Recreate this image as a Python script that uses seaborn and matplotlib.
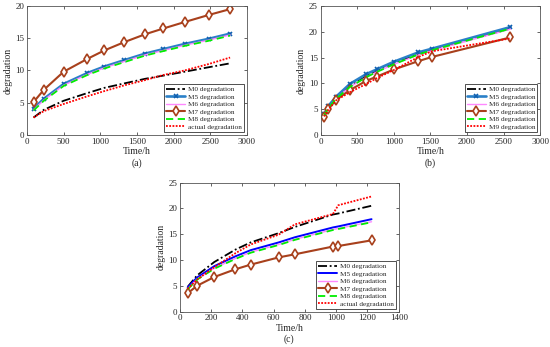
import numpy as np
import pandas as pd
import matplotlib
matplotlib.use("Agg")
import matplotlib.pyplot as plt
import seaborn as sns

# -------------------------------
# Data
# -------------------------------
# panel (a)
time_a = [90, 230, 500, 825, 1055, 1330, 1610, 1860, 2150, 2480, 2770]
m0_a = [2.7, 3.9, 5.3, 6.5, 7.3, 8.0, 8.7, 9.2, 9.8, 10.5, 11.1]
m5_a = [4.1, 5.6, 7.9, 9.6, 10.6, 11.6, 12.6, 13.3, 14.1, 14.9, 15.7]
m6_a = [3.9, 5.4, 7.7, 9.4, 10.4, 11.4, 12.4, 13.1, 13.9, 14.7, 15.5]
m7_a = [5.1, 7.0, 9.8, 11.8, 13.1, 14.4, 15.6, 16.5, 17.5, 18.6, 19.5]
m8_a = [3.8, 5.3, 7.6, 9.3, 10.3, 11.3, 12.3, 13.0, 13.8, 14.6, 15.4]
actual_a = [2.7, 3.7, 4.8, 6.0, 6.8, 7.7, 8.5, 9.3, 10.0, 11.0, 12.0]

# panel (b)
time_b = [46, 105, 210, 401, 625, 766, 1003, 1336, 1518, 2595]
m0_b = [3.8, 5.3, 7.1, 9.5, 11.4, 12.4, 13.9, 15.7, 16.5, 20.6]
m5_b = [4.0, 5.6, 7.4, 9.9, 11.8, 12.7, 14.2, 16.0, 16.7, 20.9]
m6_b = [3.7, 5.2, 7.0, 9.3, 11.2, 12.2, 13.7, 15.5, 16.3, 20.5]
m7_b = [3.55, 5.0, 6.8, 8.7, 10.5, 11.3, 12.7, 14.3, 15.1, 18.9]
m8_b = [3.7, 5.2, 7.0, 9.3, 11.2, 12.2, 13.7, 15.6, 16.4, 20.6]
m9_b = [3.6, 4.9, 6.7, 8.3, 9.9, 11.0, 12.6, 15.1, 16.2, 18.7]

# panel (c)
time_c = [50, 110, 220, 355, 453, 632, 736, 979, 1013, 1226]
m0_c = [4.8, 7.0, 9.6, 12.0, 13.4, 15.2, 16.4, 18.8, 19.0, 20.5]
m5_c = [4.7, 6.6, 8.8, 10.7, 11.9, 13.4, 14.4, 16.3, 16.5, 17.9]
m6_c = [4.4, 6.3, 8.4, 10.3, 11.5, 13.0, 14.0, 15.9, 16.1, 17.4]
m7_c = [3.55, 5.0, 6.7, 8.2, 9.1, 10.5, 11.1, 12.6, 12.7, 13.8]
m8_c = [4.3, 6.2, 8.3, 10.2, 11.4, 12.9, 13.9, 15.8, 16.0, 17.3]
actual_c = [4.4, 6.2, 8.6, 11.3, 13.0, 14.9, 16.9, 18.9, 20.6, 22.3]

# -------------------------------
# Style
# -------------------------------
sns.set_style("ticks")
plt.rcParams['font.family'] = ['Liberation Serif', 'DejaVu Serif']
plt.rcParams['xtick.direction'] = 'in'
plt.rcParams['ytick.direction'] = 'in'
plt.rcParams['xtick.labelsize'] = 6.5
plt.rcParams['ytick.labelsize'] = 6.5

brown = '#A8401C'
mblue = '#2a80c8'

fig = plt.figure(figsize=(5.5, 3.47), dpi=100)
ax_a = fig.add_axes([0.049, 0.611, 0.400, 0.372])
ax_b = fig.add_axes([0.583, 0.611, 0.399, 0.372])
ax_c = fig.add_axes([0.327, 0.102, 0.398, 0.372])


def draw(ax, t, series, m5_style, last_label):
    m0, m5, m6, m7, m8, last = series
    sns.lineplot(x=t, y=m0, ax=ax, color='black', linestyle=(0, (5, 1.5, 1, 1.5)),
                 lw=1.3, label='M0 degradation')
    if m5_style == 'marker':
        sns.lineplot(x=t, y=m5, ax=ax, color=mblue, lw=1.9, marker='x', markersize=3.5,
                     markeredgewidth=1.2, markeredgecolor='#1060b0',
                     label='M5 degradation')
    else:
        sns.lineplot(x=t, y=m5, ax=ax, color='#0000FF', lw=1.4, label='M5 degradation')
    sns.lineplot(x=t, y=m6, ax=ax, color='#FF88FF', lw=1.0, label='M6 degradation')
    sns.lineplot(x=t, y=m7, ax=ax, color=brown, lw=1.5, marker='d', markersize=5,
                 markerfacecolor='white', markeredgecolor=brown, markeredgewidth=1.2,
                 label='M7 degradation')
    sns.lineplot(x=t, y=m8, ax=ax, color='#00EE00', lw=1.3, linestyle=(0, (4, 2.5)),
                 label='M8 degradation')
    sns.lineplot(x=t, y=last, ax=ax, color='red', lw=1.3, linestyle=(0, (1, 0.8)),
                 label=last_label)
    ax.legend(loc='lower right', fontsize=5.2, handlelength=2.6, labelspacing=0.2,
              borderpad=0.3, handletextpad=0.4, fancybox=False, edgecolor='#333333',
              framealpha=1, borderaxespad=0.4)
    ax.legend_.get_frame().set_linewidth(0.6)
    for s in ax.spines.values():
        s.set_linewidth(0.6)
        s.set_color('#555555')
    ax.tick_params(top=True, right=True, length=2, width=0.5, pad=2)
    ax.set_ylabel('degradation', fontsize=7, labelpad=2)
    ax.set_xlabel('Time/h', fontsize=7, labelpad=1)


draw(ax_a, time_a, [m0_a, m5_a, m6_a, m7_a, m8_a, actual_a], 'marker', 'actual degradation')
ax_a.set_xlim(0, 3000)
ax_a.set_ylim(0, 20)
ax_a.set_xticks(np.arange(0, 3001, 500))
ax_a.set_yticks(np.arange(0, 21, 5))

draw(ax_b, time_b, [m0_b, m5_b, m6_b, m7_b, m8_b, m9_b], 'marker', 'M9 degradation')
ax_b.set_xlim(0, 3000)
ax_b.set_ylim(0, 25)
ax_b.set_xticks(np.arange(0, 3001, 500))
ax_b.set_yticks(np.arange(0, 26, 5))

draw(ax_c, time_c, [m0_c, m5_c, m6_c, m7_c, m8_c, actual_c], 'plain', 'actual degradation')
ax_c.set_xlim(0, 1400)
ax_c.set_ylim(0, 25)
ax_c.set_xticks(np.arange(0, 1401, 200))
ax_c.set_yticks(np.arange(0, 26, 5))

for ax, tag in [(ax_a, '(a)'), (ax_b, '(b)'), (ax_c, '(c)')]:
    ax.text(0.5, -0.18, tag, transform=ax.transAxes, ha='center', va='top', fontsize=7)

fig.savefig('out.png', dpi=100)
